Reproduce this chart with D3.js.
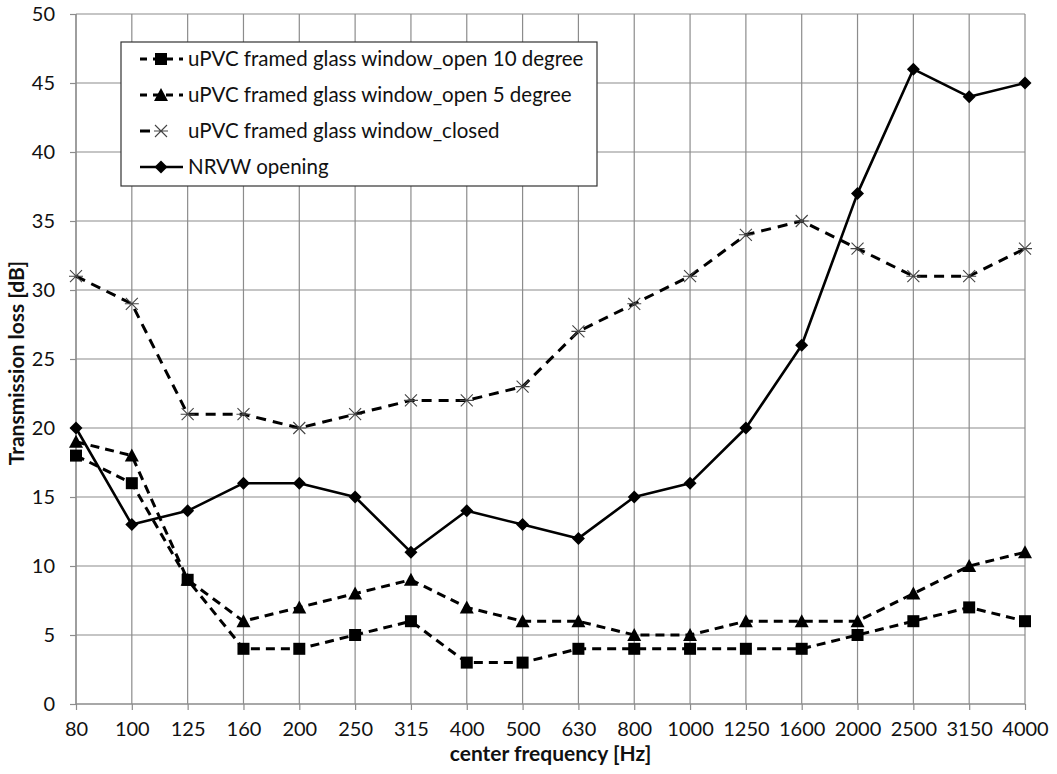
<!DOCTYPE html>
<html>
<head>
<meta charset="utf-8">
<script src="https://cdn.jsdelivr.net/npm/d3@7"></script>
<style>
  html, body { margin: 0; padding: 0; background: #fff; }
  svg { display: block; font-family: Lato, "Open Sans", sans-serif; }
</style>
</head>
<body>
<svg id="chart" width="1057" height="774"></svg>
<script>
// Third-octave centre frequencies (Hz)
const frequencies = ["80","100","125","160","200","250","315","400","500","630","800","1000","1250","1600","2000","2500","3150","4000"];

// Transmission loss per band (dB)
const open10 = [18,16,9,4,4,5,6,3,3,4,4,4,4,4,5,6,7,6];
const open5  = [19,18,9,6,7,8,9,7,6,6,5,5,6,6,6,8,10,11];
const closed = [31,29,21,21,20,21,22,22,23,27,29,31,34,35,33,31,31,33];
const nrvw   = [20,13,14,16,16,15,11,14,13,12,15,16,20,26,37,46,44,45];

const yTicks = [0,5,10,15,20,25,30,35,40,45,50];

const seriesNames = [
  "uPVC framed glass window_open 10 degree",
  "uPVC framed glass window_open 5 degree",
  "uPVC framed glass window_closed",
  "NRVW opening"
];

const series = [
  { name: seriesNames[0], values: open10, marker: "square",   dash: "9,6",  width: 3 },
  { name: seriesNames[1], values: open5,  marker: "triangle", dash: "9,6",  width: 3 },
  { name: seriesNames[2], values: closed, marker: "cross",    dash: "10,7", width: 3 },
  { name: seriesNames[3], values: nrvw,   marker: "diamond",  dash: null,   width: 2.6 }
];

const svg = d3.select("#chart");
const margin = { left: 76, top: 14, right: 1057 - 1025, bottom: 774 - 704 };
const W = 1057 - margin.left - margin.right;
const H = 774 - margin.top - margin.bottom;

const x = d3.scalePoint().domain(frequencies).range([0, W]);
const y = d3.scaleLinear().domain([0, 50]).range([H, 0]);

const g = svg.append("g").attr("transform", `translate(${margin.left},${margin.top})`);

const gridColor = "#8c8c8c";

// Horizontal gridlines
g.append("g").selectAll("line").data(yTicks).join("line")
  .attr("x1", 0).attr("x2", W)
  .attr("y1", d => y(d)).attr("y2", d => y(d))
  .attr("stroke", gridColor).attr("stroke-width", 1.2);

// Vertical gridlines
g.append("g").selectAll("line").data(frequencies).join("line")
  .attr("x1", d => x(d)).attr("x2", d => x(d))
  .attr("y1", 0).attr("y2", H)
  .attr("stroke", gridColor).attr("stroke-width", 1.2);

// Y axis
const yAxis = g.append("g")
  .call(d3.axisLeft(y).tickValues(yTicks).tickSize(6).tickPadding(15).tickFormat(d3.format("d")));
yAxis.select(".domain").attr("stroke", gridColor).attr("stroke-width", 1.2).attr("d", `M0,0V${H}`);
yAxis.selectAll(".tick line").attr("stroke", gridColor).attr("stroke-width", 1.2);
yAxis.selectAll(".tick text").attr("font-size", 20).attr("fill", "#111").attr("font-family", "Lato, sans-serif");

// X axis
const xAxis = g.append("g").attr("transform", `translate(0,${H})`)
  .call(d3.axisBottom(x).tickSize(6).tickPadding(12));
xAxis.select(".domain").attr("stroke", gridColor).attr("stroke-width", 1.2).attr("d", `M0,0H${W}`);
xAxis.selectAll(".tick line").attr("stroke", gridColor).attr("stroke-width", 1.2);
xAxis.selectAll(".tick text").attr("font-size", 20).attr("fill", "#111").attr("font-family", "Lato, sans-serif");

// Axis titles
svg.append("text")
  .attr("x", margin.left + W / 2).attr("y", 761)
  .attr("text-anchor", "middle").attr("font-size", 21).attr("font-weight", "bold").attr("fill", "#111")
  .text("center frequency [Hz]");

svg.append("text")
  .attr("transform", `translate(24,${margin.top + H / 2 + 4}) rotate(-90)`)
  .attr("text-anchor", "middle").attr("font-size", 21).attr("font-weight", "bold").attr("fill", "#111")
  .text("Transmission loss [dB]");

// Marker shapes
function drawMarker(sel, type) {
  if (type === "square") {
    sel.append("rect").attr("x", -6).attr("y", -6).attr("width", 12).attr("height", 12).attr("fill", "#000");
  } else if (type === "triangle") {
    sel.append("path").attr("d", "M0,-7L7,6L-7,6Z").attr("fill", "#000");
  } else if (type === "diamond") {
    sel.append("path").attr("d", "M0,-6.5L6.5,0L0,6.5L-6.5,0Z").attr("fill", "#000");
  } else if (type === "cross") {
    sel.append("path").attr("d", "M-6,-6L6,6M-6,6L6,-6M-7,0H7").attr("stroke", "#444").attr("stroke-width", 1.1).attr("fill", "none");
  }
}

const line = d3.line()
  .x((d, i) => x(frequencies[i]))
  .y(d => y(d));

series.forEach(s => {
  g.append("path")
    .datum(s.values)
    .attr("d", line)
    .attr("fill", "none")
    .attr("stroke", "#000")
    .attr("stroke-width", s.width)
    .attr("stroke-linejoin", "round")
    .attr("stroke-dasharray", s.dash);
});

series.forEach(s => {
  g.append("g").selectAll("g").data(s.values).join("g")
    .attr("transform", (d, i) => `translate(${x(frequencies[i])},${y(d)})`)
    .each(function () { drawMarker(d3.select(this), s.marker); });
});

// Legend
const legend = svg.append("g").attr("transform", "translate(121,42)");
legend.append("rect").attr("width", 476).attr("height", 144)
  .attr("fill", "#fff").attr("stroke", "#333").attr("stroke-width", 1.2);

series.forEach((s, i) => {
  const row = legend.append("g").attr("transform", `translate(0,${17 + i * 36})`);
  if (s.marker === "cross") {
    row.append("line").attr("x1", 19).attr("x2", 29).attr("y1", 0).attr("y2", 0)
      .attr("stroke", "#000").attr("stroke-width", 3);
  } else {
    row.append("line").attr("x1", 19).attr("x2", 62).attr("y1", 0).attr("y2", 0)
      .attr("stroke", "#000").attr("stroke-width", s.width).attr("stroke-dasharray", s.dash ? "7,6" : null);
  }
  const m = row.append("g").attr("transform", "translate(40,0)");
  drawMarker(m, s.marker);
  row.append("text").attr("x", 67).attr("y", 7)
    .attr("font-size", 20.5).attr("fill", "#111")
    .text(s.name);
});
</script>
</body>
</html>
